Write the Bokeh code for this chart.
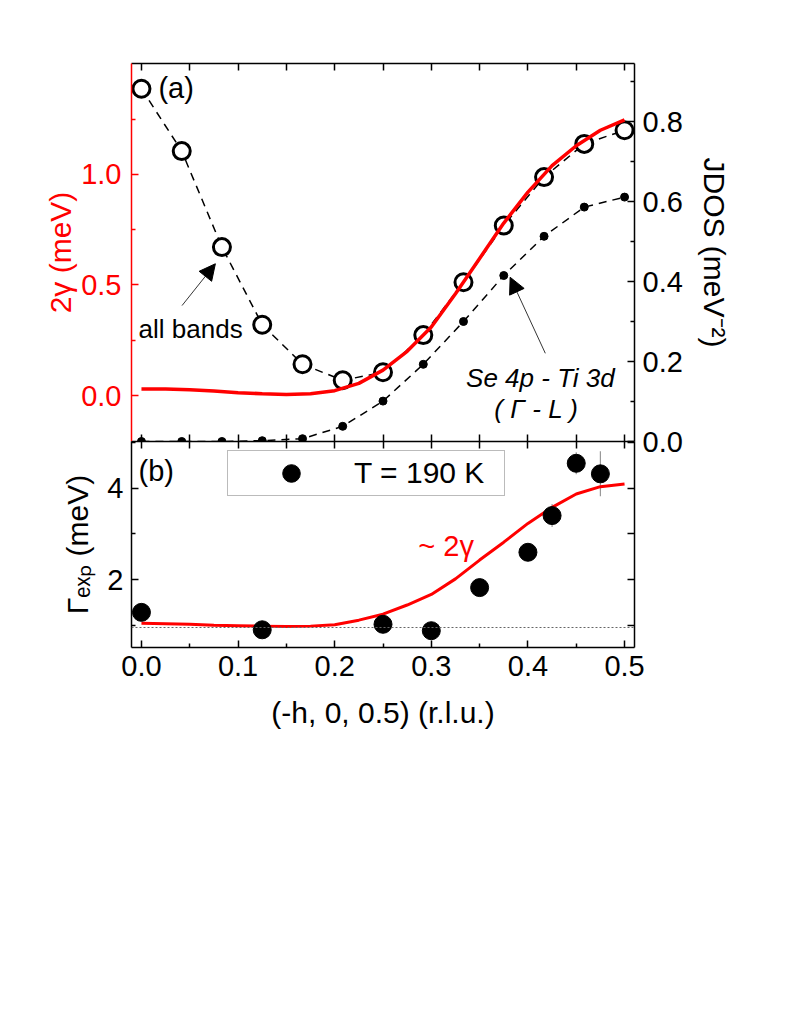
from bokeh.plotting import figure
from bokeh.models import (Range1d, LinearAxis, FixedTicker, Label, Arrow, NormalHead,
                          Span, Legend, LegendItem)
from bokeh.layouts import column
from bokeh.embed import file_html
from bokeh.resources import INLINE

# ---------------- data ----------------
# panel (a): JDOS on the right axis
q_calc = [0.0, 0.0417, 0.0833, 0.125, 0.1667, 0.2083, 0.25, 0.2917, 0.3333, 0.375, 0.4167, 0.4583, 0.5]
jdos_all_bands = [0.882, 0.726, 0.486, 0.292, 0.193, 0.153, 0.173, 0.266, 0.398, 0.540, 0.661, 0.744, 0.778]
jdos_se4p_ti3d = [0.0, 0.0, 0.0, 0.002, 0.007, 0.038, 0.101, 0.193, 0.300, 0.415, 0.513, 0.586, 0.611]

# panel (a): 2 gamma on the left (red) axis
q_fit = [0.0, 0.025, 0.05, 0.075, 0.1, 0.125, 0.15, 0.175, 0.2, 0.225, 0.25,
         0.275, 0.3, 0.325, 0.35, 0.375, 0.4, 0.425, 0.45, 0.475, 0.5]
two_gamma = [0.030, 0.029, 0.026, 0.020, 0.013, 0.008, 0.005, 0.008, 0.022, 0.055, 0.115,
             0.20, 0.31, 0.46, 0.62, 0.78, 0.92, 1.04, 1.13, 1.20, 1.247]

# panel (b): ~2 gamma curve and experimental widths
gamma_exp_curve = [1.05, 1.04, 1.03, 1.01, 1.00, 0.99, 0.98, 0.99, 1.02, 1.12, 1.25,
                   1.45, 1.68, 2.02, 2.43, 2.82, 3.23, 3.58, 3.87, 4.03, 4.09]
q_exp = [0.0, 0.125, 0.25, 0.3, 0.35, 0.4, 0.425, 0.45, 0.475]
gamma_exp = [1.29, 0.91, 1.03, 0.89, 1.83, 2.60, 3.40, 4.54, 4.31]
gamma_exp_err = [0.1, 0.1, 0.1, 0.1, 0.1, 0.1, 0.25, 0.24, 0.49]
gamma_baseline = 0.96

# ticks
x_major = [0.0, 0.1, 0.2, 0.3, 0.4, 0.5]
x_minor = [0.05, 0.15, 0.25, 0.35, 0.45]
x_labels = ["0.0", "0.1", "0.2", "0.3", "0.4", "0.5"]
g_major = [0.0, 0.5, 1.0]
g_minor = [0.25, 0.75, 1.25]
g_labels = ["0.0", "0.5", "1.0"]
j_major = [0.0, 0.2, 0.4, 0.6, 0.8]
j_minor = [0.1, 0.3, 0.5, 0.7, 0.9]
j_labels = ["0.0", "0.2", "0.4", "0.6", "0.8"]
e_major = [2, 4]
e_minor = [1, 3, 5]
e_labels = ["2", "4"]

# axis ranges
x_lim = (-0.0103, 0.5103)
gamma2_lim = (-0.208, 1.502)
jdos_lim = (0.0, 0.945)
gexp_lim = (0.524, 5.015)

FONT = "Liberation Sans"
RED = "#ff0000"
LEFT, RIGHT, FRAME_W = 131, 120, 503
OVERLAP = 16   # strip below panel (a) that panel (b) overlaps (keeps the "0.0" label whole)


def make_axis(kw, major, minor, labels, color="black", standoff=8, ticks_only=False):
    ax = LinearAxis(**kw)
    if ticks_only:
        ax.ticker = FixedTicker(ticks=[], minor_ticks=list(major) + list(minor))
        ax.minor_tick_in = 7
    else:
        ax.ticker = FixedTicker(ticks=major, minor_ticks=minor)
        ax.major_label_overrides = {t: l for t, l in zip(major, labels)}
        ax.minor_tick_in = 4
    ax.axis_line_color = color
    ax.axis_line_width = 1.5
    ax.major_tick_line_color = color
    ax.minor_tick_line_color = color
    ax.major_tick_line_width = 1.5
    ax.minor_tick_line_width = 1.5
    ax.major_tick_in = 7
    ax.major_tick_out = 0
    ax.minor_tick_out = 0
    ax.major_label_text_font = FONT
    ax.major_label_text_color = color
    ax.major_label_text_font_size = "29px"
    ax.major_label_standoff = standoff
    ax.axis_label_text_font = FONT
    ax.axis_label_text_font_style = "normal"
    ax.axis_label_text_font_size = "30px"
    ax.axis_label_text_color = color
    return ax


def txt(x, y, text, size="29px", color="black", **kw):
    kw.setdefault("text_baseline", "middle")
    return Label(x=x, y=y, text=text, text_font=FONT, text_font_size=size,
                 text_color=color, **kw)


x_range = Range1d(*x_lim)

# ---------------- panel (a) ----------------
p1 = figure(width=LEFT + FRAME_W + RIGHT, height=63 + 378 + OVERLAP,
            x_range=x_range, y_range=Range1d(*gamma2_lim),
            output_backend="svg", toolbar_location=None,
            x_axis_location=None, y_axis_location=None,
            min_border_left=LEFT, min_border_right=RIGHT,
            min_border_top=63, min_border_bottom=OVERLAP)
p1.extra_y_ranges = {"jdos": Range1d(*jdos_lim)}
p1.outline_line_color = None
p1.background_fill_color = "white"
p1.border_fill_color = "white"
p1.xgrid.visible = False
p1.ygrid.visible = False

ax_l = make_axis({}, g_major, g_minor, g_labels, color=RED, standoff=10)
ax_l.axis_label = "2γ (meV)"
ax_l.axis_label_standoff = 1
p1.add_layout(ax_l, "left")
ax_r = make_axis({"y_range_name": "jdos"}, j_major, j_minor, j_labels)
ax_r.axis_label = "JDOS (meV⁻²)"
ax_r.axis_label_standoff = 12
p1.add_layout(ax_r, "right")
p1.add_layout(make_axis({}, x_major, x_minor, x_labels, ticks_only=True), "above")
p1.add_layout(make_axis({}, x_major, x_minor, x_labels, ticks_only=True), "below")

p1.line(q_calc, jdos_all_bands, y_range_name="jdos", line_color="black",
        line_width=1.5, line_dash="8 6")
p1.line(q_calc, jdos_se4p_ti3d, y_range_name="jdos", line_color="black",
        line_width=1.5, line_dash="8 6")
p1.scatter(q_calc, jdos_se4p_ti3d, y_range_name="jdos", size=8, marker="circle",
           fill_color="black", line_color="black")
p1.scatter(q_calc, jdos_all_bands, y_range_name="jdos", size=17, marker="circle",
           fill_color="white", line_color="black", line_width=3)
p1.line(q_fit, two_gamma, line_color=RED, line_width=3.5)

p1.add_layout(Arrow(end=NormalHead(size=16, fill_color="black", line_color="black"),
                    x_start=0.042, y_start=0.407, x_end=0.0765, y_end=0.596,
                    line_color="black", line_width=0.8))
p1.add_layout(Arrow(end=NormalHead(size=16, fill_color="black", line_color="black"),
                    x_start=0.418, y_start=0.191, x_end=0.3816, y_end=0.535,
                    line_color="black", line_width=0.8))

p1.add_layout(txt(0.0176, 1.389, "(a)"))
p1.add_layout(txt(-0.003, 0.299, "all bands", size="26px"))
p1.add_layout(txt(0.336, 0.081, "Se 4p - Ti 3d", size="26px", text_font_style="italic"))
p1.add_layout(txt(0.42, -0.059, "(  Γ  -  L )", size="26px", text_font_style="italic",
                  text_align="center"))

# ---------------- panel (b) ----------------
p2 = figure(width=LEFT + FRAME_W + RIGHT, height=206 + 95,
            x_range=x_range, y_range=Range1d(*gexp_lim),
            output_backend="svg", toolbar_location=None,
            x_axis_location=None, y_axis_location=None,
            min_border_left=LEFT, min_border_right=RIGHT,
            min_border_top=0, min_border_bottom=95,
            margin=(-OVERLAP, 0, 0, 0))
p2.outline_line_color = None
p2.background_fill_color = "white"
p2.border_fill_color = None
p2.xgrid.visible = False
p2.ygrid.visible = False

ax_bl = make_axis({}, e_major, e_minor, e_labels, standoff=8)
ax_bl.axis_label = "Γₑₓₚ (meV)"
ax_bl.axis_label_standoff = 10
p2.add_layout(ax_bl, "left")
p2.add_layout(make_axis({}, e_major, e_minor, e_labels, ticks_only=True), "right")
p2.add_layout(make_axis({}, x_major, x_minor, x_labels, ticks_only=True), "above")
ax_b = make_axis({}, x_major, x_minor, x_labels, standoff=8)
ax_b.axis_label = "(-h, 0, 0.5) (r.l.u.)"
ax_b.axis_label_standoff = 17
p2.add_layout(ax_b, "below")

p2.add_layout(Span(location=gamma_baseline, dimension="width",
                   line_color="#666666", line_width=1, line_dash="2 2"))
err_lo = [g - e for g, e in zip(gamma_exp, gamma_exp_err)]
err_hi = [g + e for g, e in zip(gamma_exp, gamma_exp_err)]
p2.segment(x0=q_exp, y0=err_lo, x1=q_exp, y1=err_hi, line_color="#999999", line_width=1.2)
p2.line(q_fit, gamma_exp_curve, line_color=RED, line_width=3)
dots = p2.scatter(q_exp, gamma_exp, size=18, marker="circle", fill_color="black",
                  line_color="black")

p2.add_layout(txt(0.2865, 2.745, "~ 2γ", color=RED))
p2.add_layout(txt(-0.003, 4.38, "(b)"))

legend = Legend(items=[LegendItem(label="T = 190 K", renderers=[dots])],
                location=(96, 151), padding=0, margin=0, spacing=0,
                glyph_width=126, glyph_height=44, label_standoff=0, label_width=150,
                label_text_font=FONT, label_text_font_size="30px", label_text_color="black",
                border_line_color="#777777", border_line_width=1,
                background_fill_color="white", background_fill_alpha=1.0)
p2.add_layout(legend)

layout = column(p1, p2, spacing=0)
open("out.html", "w").write(file_html(layout, INLINE))
